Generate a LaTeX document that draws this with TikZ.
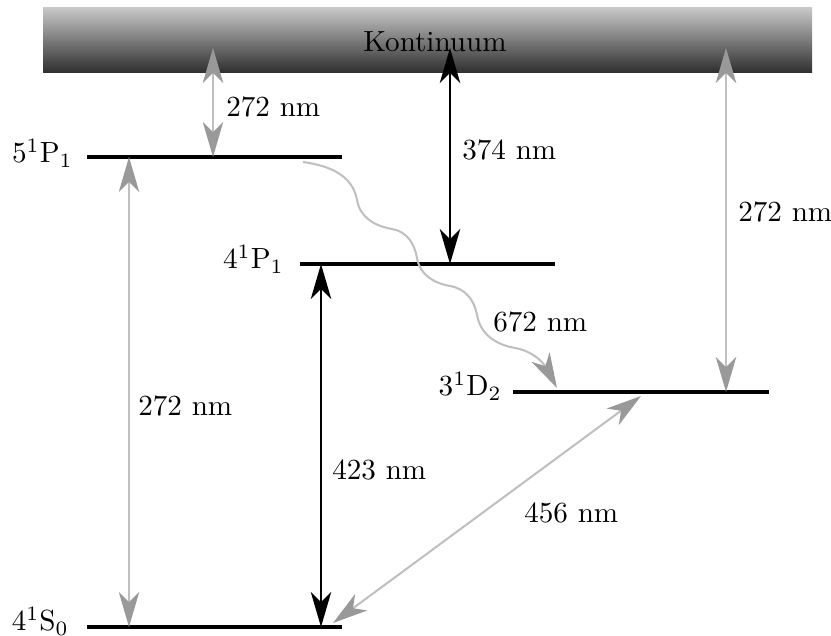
\documentclass[tikz,border=0pt]{standalone}
\usetikzlibrary{arrows.meta}
\definecolor{linegray}{gray}{0.75}
\definecolor{tipgray}{gray}{0.6}
\begin{document}
\begin{tikzpicture}[x=0.012048cm, y=0.012048cm,
  level/.style={line width=1.4pt},
  darrow/.style={line width=0.8pt, {Stealth[length=12pt,width=7pt,inset=3.5pt]}-{Stealth[length=12pt,width=7pt,inset=3.5pt]}},
  garrow/.style={draw=linegray, line width=0.7pt,
    {Stealth[length=12pt,width=7pt,inset=3.5pt,color=tipgray]}-{Stealth[length=12pt,width=7pt,inset=3.5pt,color=tipgray]}},
  wlabel/.style={anchor=west},
  lvlabel/.style={anchor=east}]
\useasboundingbox (0,0) rectangle (831,635);

% continuum band
\shade[top color=black!22, bottom color=black!82] (43,562) rectangle (812,627);
\node (kont) at (435,593) {Kontinuum};

% energy levels
\coordinate (s0l) at (87,8);   \coordinate (s0r) at (342,8);
\coordinate (p5l) at (87,478); \coordinate (p5r) at (342,478);
\coordinate (p4l) at (300,371); \coordinate (p4r) at (555,371);
\coordinate (d3l) at (513,243); \coordinate (d3r) at (769,243);
\draw[level] (s0l) -- (s0r);
\draw[level] (p5l) -- (p5r);
\draw[level] (p4l) -- (p4r);
\draw[level] (d3l) -- (d3r);

\node[lvlabel] (lp5) at (83,482) {$5^1\mathrm{P}_1$};
\node[lvlabel] (lp4) at (294,376) {$4^1\mathrm{P}_1$};
\node[lvlabel] (ld3) at (512,249) {$3^1\mathrm{D}_2$};
\node[lvlabel] (ls0) at (79,14) {$4^1\mathrm{S}_0$};

% arrow end points
\coordinate (k1) at (213,587);  \coordinate (p5a) at (213,478);
\coordinate (k2) at (450,587);  \coordinate (p4a) at (450,371);
\coordinate (k3) at (726,587);  \coordinate (d3a) at (726,243);
\coordinate (p5b) at (129,478); \coordinate (s0a) at (129,8);
\coordinate (p4b) at (321,371); \coordinate (s0b) at (321,8);
\coordinate (s0c) at (333,12);  \coordinate (d3b) at (641,239);
\coordinate (p5c) at (303,473); \coordinate (d3c) at (557,247);

% transitions
\draw[garrow] (k1) -- (p5a);
\draw[darrow] (k2) -- (p4a);
\draw[garrow] (k3) -- (d3a);
\draw[garrow] (p5b) -- (s0a);
\draw[darrow] (p4b) -- (s0b);
\draw[garrow] (s0c) -- (d3b);

% wavy decay 5P1 -> 3D2
\draw[draw=linegray, line width=0.7pt, -{Stealth[length=12pt,width=7pt,inset=3.5pt,color=tipgray]}]
  (p5c) to[out=-8,in=100] (357,435)
        to[out=-80,in=170] (392,406)
        to[out=-10,in=100] (417,377)
        to[out=-80,in=170] (450,349)
        to[out=-10,in=100] (477,320)
        to[out=-80,in=170] (515,287)
        to[out=-10,in=118] (d3c);

% wavelength labels
\node[wlabel] (w1) at (216,528) {272 nm};
\node[wlabel] (w2) at (452,485) {374 nm};
\node[wlabel] (w3) at (728,423) {272 nm};
\node[wlabel] (w4) at (128,229) {272 nm};
\node[wlabel] (w5) at (322,165) {423 nm};
\node[wlabel] (w6) at (514,122) {456 nm};
\node[wlabel] (w7) at (483,313) {672 nm};
\end{tikzpicture}
\end{document}
